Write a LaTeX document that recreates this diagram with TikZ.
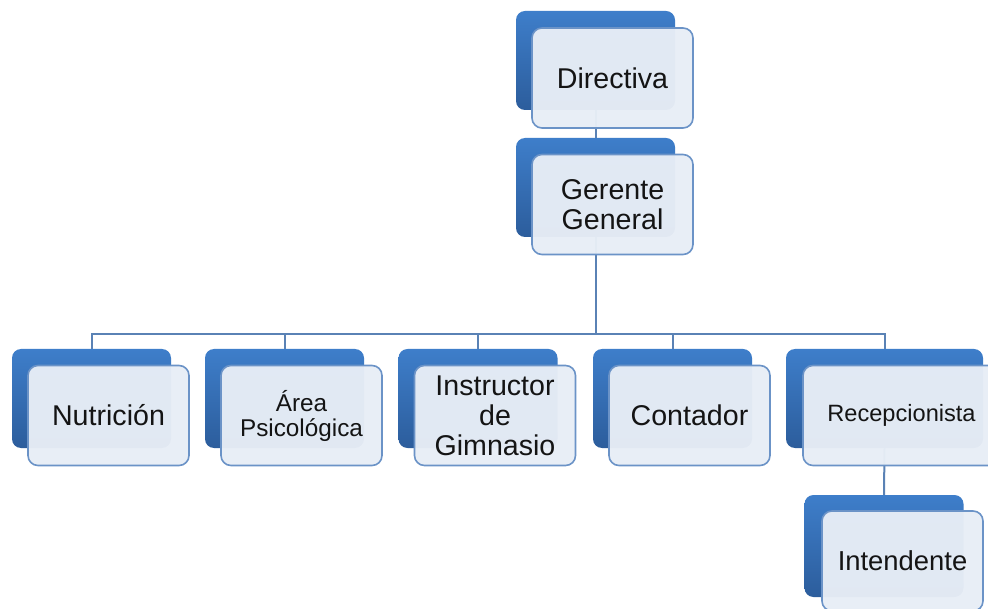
\documentclass[tikz,border=0pt]{standalone}
\usepackage{fontspec}
\setmainfont{Liberation Sans}
\usepackage{xcolor}
\usepackage{tikz}

\definecolor{backtop}{HTML}{3E7ECA}
\definecolor{backbot}{HTML}{2C5D9C}
\definecolor{frontline}{HTML}{6B93C7}
\definecolor{frontfill}{HTML}{E8EEF6}
\definecolor{linkcol}{HTML}{5A82B5}
\definecolor{ink}{HTML}{141414}

\tikzset{
  back/.style={rectangle, rounded corners=9pt, minimum width=159pt, minimum height=99pt,
    top color=backtop, bottom color=backbot, inner sep=0pt},
  front/.style={rectangle, rounded corners=10pt, minimum width=161pt, minimum height=100pt,
    draw=frontline, line width=1.6pt, fill=frontfill, fill opacity=0.965, text opacity=1,
    inner sep=0pt, align=center, text=ink, font=\fontsize{28.6}{30}\selectfont},
  link/.style={draw=linkcol, line width=2pt}
}

\begin{document}
\begin{tikzpicture}[x=1pt, y=-1pt]
  \clip (0,0) rectangle (988,609);
  \fill[white] (0,0) rectangle (988,609);

  % back boxes
  \node[back] (dirB) at (595.5, 60.5) {};
  \node[back] (gerB) at (595.5, 187.5) {};
  \node[back] (nutB) at (91.5, 398.5) {};
  \node[back] (psiB) at (284.5, 398.5) {};
  \node[back] (insB) at (478.0, 398.5) {};
  \node[back] (conB) at (672.5, 398.5) {};
  \node[back, minimum width=197pt] (recB) at (884.5, 398.5) {};
  \node[back, minimum height=102pt] (intB) at (884.0, 546.0) {};

  % connectors
  \coordinate (bus) at (595.5, 334);
  \draw[link] (dirB.south) -- (gerB.north); % directiva-gerente
  \draw[link] (gerB.south) -- (bus);
  \foreach \n in {nutB, psiB, insB, conB, recB}
    \draw[link] (\n.north) |- (bus);
  \draw[link] (recB.south) -- (intB.north); % recepcionista-intendente

  % front boxes
  \node[front] (dir) at ([shift={(17,17.5)}]dirB) {Directiva};
  \node[front] (ger) at ([shift={(17,17)}]gerB) {Gerente\\General};
  \node[front] (nut) at ([shift={(17,17)}]nutB) {Nutrición};
  \node[front, font=\fontsize{24.3}{25}\selectfont] (psi) at ([shift={(17,17)}]psiB) {Área\\Psicológica};
  \node[front] (ins) at ([shift={(17,17)}]insB) {Instructor\\de\\Gimnasio};
  \node[front] (con) at ([shift={(17,17)}]conB) {Contador};
  \node[front, minimum width=197pt, font=\fontsize{23.6}{24}\selectfont] (rec) at ([shift={(17,17)}]recB) {Recepcionista};
  \node[front, font=\fontsize{27.4}{29}\selectfont] (int) at ([shift={(18.5,15)}]intB) {Intendente};
\end{tikzpicture}
\end{document}
